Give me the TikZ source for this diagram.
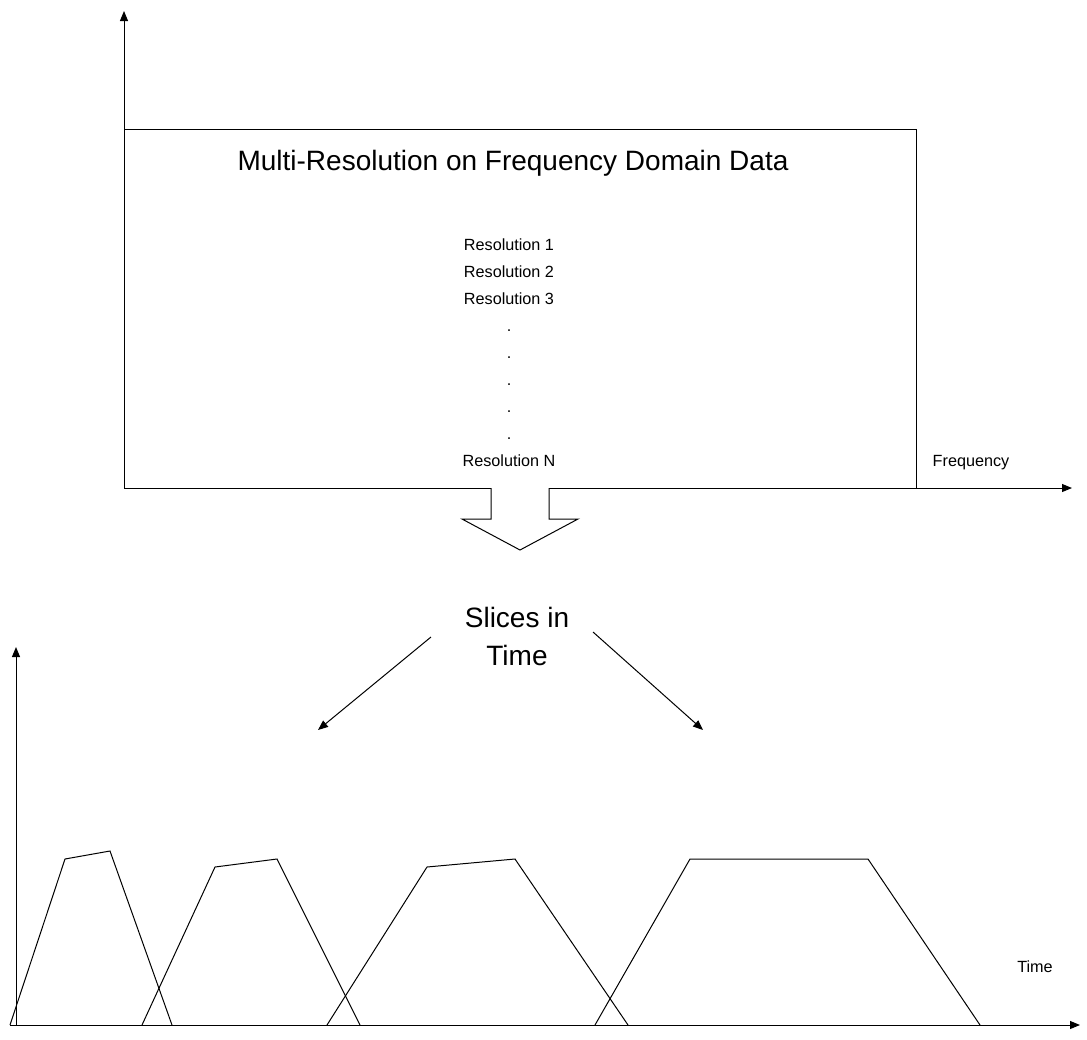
\documentclass[tikz,border=0pt]{standalone}
\usepackage{fontspec}
\setmainfont{Liberation Sans}
\usetikzlibrary{arrows.meta}
\begin{document}
\begin{tikzpicture}[x=0.5pt,y=-0.5pt,
  ln/.style={line width=0.5pt,black},
  axis/.style={ln,-{Triangle[length=5pt,width=4pt]}},
  big/.style={font=\fontsize{14}{17}\selectfont,inner sep=0pt},
  small/.style={font=\fontsize{8.1}{13.5}\selectfont,inner sep=0pt,align=center}]
\useasboundingbox (0,0) rectangle (1087,1039);
% top part
\coordinate (bl) at (124,488);
\coordinate (tl) at (124,129);
\coordinate (tr) at (916,129);
\coordinate (br) at (916,488);
\coordinate (ytop) at (124,11);
\coordinate (fend) at (1072,488);
\draw[ln] (491,488) -- (bl) -- (tl) -- (tr) -- (br) -- (549,488);
\draw[axis] (tl) -- (ytop);
\draw[axis] (br) -- (fend);
% block arrow
\draw[ln,line join=miter] (491,488) -- (491,519) -- (462,519) -- (520,550) -- (578,519) -- (549,519) -- (549,488);
\node[big] (title) at (513,163) {Multi-Resolution on Frequency Domain Data};
\node[small,anchor=north] (res) at (509,238) {Resolution 1\\Resolution 2\\Resolution 3\\.\\.\\.\\.\\.\\Resolution N};
\node[small] (freq) at (971,463) {Frequency};
% lower part
\node[big,align=center,font=\fontsize{14}{19}\selectfont] (slices) at (517,636) {Slices in\\Time};
\coordinate (la) at (318,730);
\coordinate (ra) at (703,730);
\draw[axis] (431,637) -- (la);
\draw[axis] (593,632) -- (ra);
\coordinate (o) at (16,1025);
\coordinate (yt) at (16,647);
\coordinate (xt) at (1080,1025);
\draw[axis] (o) -- (yt);
\draw[axis] (10,1025) -- (xt);
\node[small] (time) at (1035,967) {Time};
% trapezoids
\draw[ln] (10,1025) -- (65,859) -- (110,851) -- (172,1025);
\draw[ln] (142,1025) -- (215,867) -- (277,859) -- (360,1025);
\draw[ln] (327,1025) -- (427,867) -- (515,859) -- (628,1025);
\draw[ln] (595,1025) -- (690,859) -- (868,859) -- (980,1025);
\end{tikzpicture}
\end{document}
